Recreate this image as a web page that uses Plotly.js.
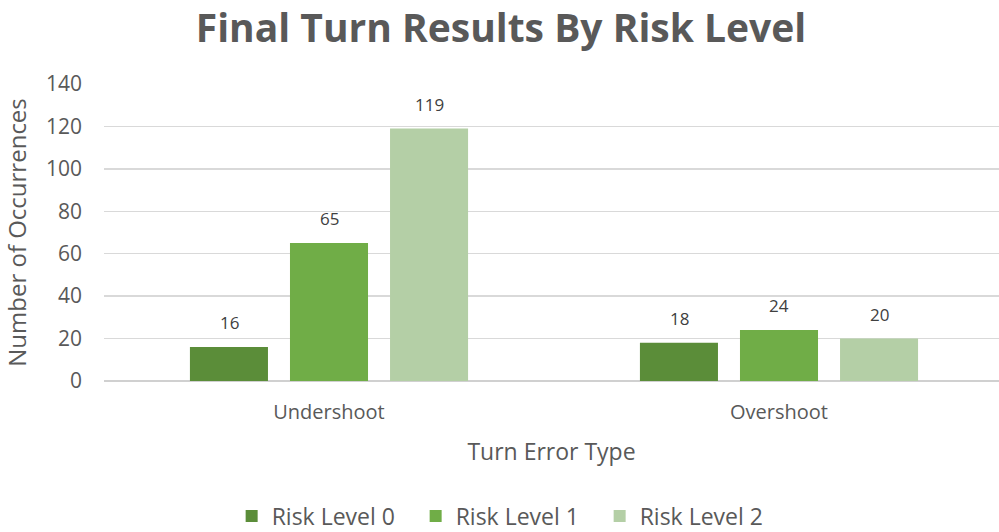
<!DOCTYPE html>
<html>
<head>
<meta charset="utf-8">
<script src="https://cdn.plot.ly/plotly-3.0.1.min.js"></script>
<style>
html,body{margin:0;padding:0;background:#fff;}
#chart{width:999px;height:532px;}
</style>
</head>
<body>
<div id="chart"></div>
<script>
var categories = ["Undershoot", "Overshoot"];
var seriesNames = ["Risk Level 0", "Risk Level 1", "Risk Level 2"];
var risk0 = [16, 18];
var risk1 = [65, 24];
var risk2 = [119, 20];
var yTicks = [0, 20, 40, 60, 80, 100, 120, 140];

var colors = ["#5B8D39", "#70AD47", "#B4CFA6"];
var values = [risk0, risk1, risk2];
var font = "Open Sans, Noto Sans, sans-serif";

var traces = values.map(function (v, i) {
  return {
    type: "bar",
    name: seriesNames[i],
    x: categories,
    y: v,
    marker: {color: colors[i]},
    hoverinfo: "skip"
  };
});

// data labels above each bar, placed through the axis scales
var annotations = [];
values.forEach(function (v, i) {
  v.forEach(function (val, j) {
    annotations.push({
      x: categories[j], y: val, xref: "x", yref: "y",
      text: String(val), showarrow: false,
      xanchor: "center", yanchor: "bottom",
      xshift: (i - 1) * 100, yshift: 11,
      font: {family: font, size: 17, color: "#404040"}
    });
  });
});

var layout = {
  width: 999,
  height: 532,
  margin: {l: 104, r: 0, t: 84, b: 151},
  paper_bgcolor: "#ffffff",
  plot_bgcolor: "#ffffff",
  barmode: "group",
  bargap: 0.333,
  bargroupgap: 0.22,
  annotations: annotations,
  title: {
    text: "<b>Final Turn Results By Risk Level</b>",
    font: {family: font, size: 39, color: "#595959"},
    x: 0.5015, xref: "container", xanchor: "center",
    y: 0.947, yref: "container", yanchor: "middle"
  },
  xaxis: {
    type: "category",
    range: [-0.5, 1.4889],
    automargin: false,
    showgrid: false,
    zeroline: false,
    showline: false,
    ticks: "",
    ticklabelstandoff: 17,
    tickfont: {family: font, size: 20, color: "#595959"},
    title: {text: "Turn Error Type", font: {family: font, size: 23, color: "#595959"}, standoff: 19}
  },
  yaxis: {
    range: [0, 140],
    automargin: false,
    tickvals: yTicks,
    ticktext: yTicks.map(String),
    showgrid: true,
    gridcolor: "#D9D9D9",
    gridwidth: 1.5,
    zeroline: true,
    zerolinecolor: "#D0D0D0",
    zerolinewidth: 1.5,
    showline: false,
    ticks: "",
    ticklabelstandoff: 21,
    tickfont: {family: font, size: 21, color: "#595959"},
    title: {text: "Number of Occurrences", font: {family: font, size: 24, color: "#595959"}, standoff: 12}
  },
  showlegend: true,
  legend: {
    orientation: "h",
    x: 0.451, xanchor: "center", xref: "paper",
    y: 0.03, yanchor: "middle", yref: "container",
    font: {family: font, size: 23, color: "#595959"},
    itemwidth: 30,
    entrywidth: 139,
    entrywidthmode: "pixels",
    traceorder: "normal"
  }
};

Plotly.newPlot("chart", traces, layout, {staticPlot: true, displayModeBar: false});
</script>
</body>
</html>
